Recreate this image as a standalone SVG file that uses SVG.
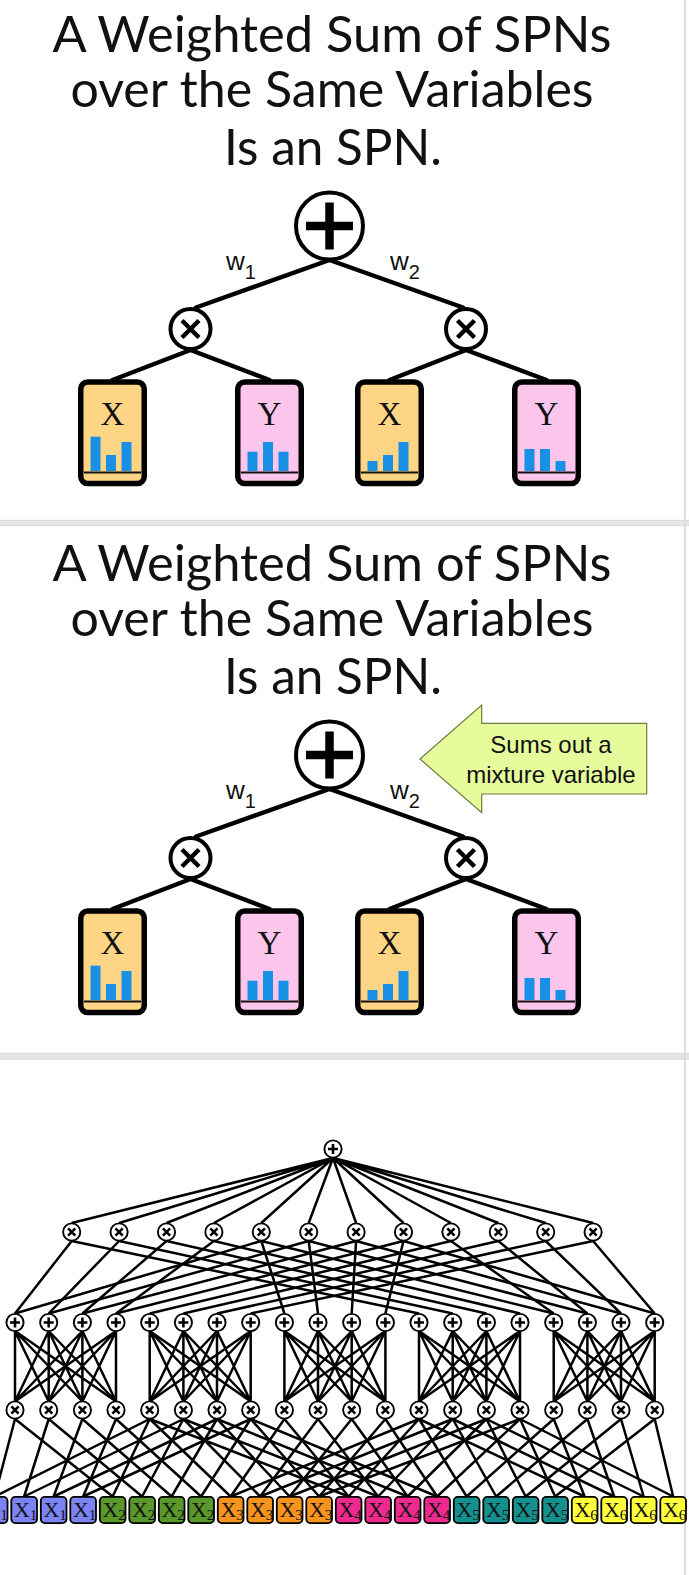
<svg xmlns="http://www.w3.org/2000/svg" width="689" height="1575" viewBox="0 0 689 1575">
<style>
.title{font-family:Lato,"Open Sans","DejaVu Sans",sans-serif;font-size:50px;fill:#111;text-anchor:middle}
.w{font-family:"Liberation Sans",Arial,sans-serif;font-size:26px;fill:#111}
.ws{font-size:20px}
.big{stroke:#000;stroke-width:4.5;fill:none;stroke-linecap:round}
.nodeC{fill:#fff;stroke:#000;stroke-width:4}
.leafX{fill:#fed584;stroke:#000;stroke-width:5.5}
.leafY{fill:#fcc6ec;stroke:#000;stroke-width:5.5}
.lbl{font-family:"Liberation Serif","Times New Roman",serif;font-size:33px;text-anchor:middle;fill:#111}
.bar{fill:#1890e6}
.base{stroke:#111;stroke-width:2.2;fill:none}
.e3{stroke:#000;stroke-width:2.5;fill:none}
.l3{font-family:"Liberation Serif","Times New Roman",serif;font-size:22px;fill:#111}
.l3s{font-size:15px}
.lf{stroke:#000;stroke-width:1.8}
.v1{fill:#7c84f4}.v2{fill:#5a982b}.v3{fill:#f7941e}.v4{fill:#ee2a8f}.v5{fill:#14908f}.v6{fill:#ffff3a}
.callout{font-family:"Liberation Sans",Arial,sans-serif;font-size:24px;fill:#111;text-anchor:middle}
</style>
<defs>
<g id="bigSum"><circle r="33.5" class="nodeC"/><path d="M-23.5,0H23.5M0,-23.5V23.5" stroke="#000" stroke-width="8.5"/></g>
<g id="bigProd"><circle r="20" class="nodeC"/><path d="M-8.5,-8.5L8.5,8.5M8.5,-8.5L-8.5,8.5" stroke="#000" stroke-width="4.5"/></g>
<g id="sP"><circle r="8.6" fill="#fff" stroke="#000" stroke-width="1.9"/><path d="M-5,0H5M0,-5V5" stroke="#000" stroke-width="2.6"/></g>
<g id="sX"><circle r="8.6" fill="#fff" stroke="#000" stroke-width="1.9"/><path d="M-3.6,-3.6L3.6,3.6M3.6,-3.6L-3.6,3.6" stroke="#000" stroke-width="2.6"/></g>
</defs>
<rect width="689" height="1575" fill="#fff"/>
<g id="separators">
<rect x="0" y="520" width="689" height="6" fill="#e6e6e6"/>
<path d="M0,520.3H689M0,525.7H689" stroke="#d6d6d6" stroke-width="0.8"/>
<rect x="0" y="1053" width="689" height="6.5" fill="#e6e6e6"/>
<path d="M0,1053.3H689M0,1059.2H689" stroke="#d6d6d6" stroke-width="0.8"/>
<rect x="684" y="0" width="2" height="1575" fill="#dedede"/>
</g>

<!-- ================= PANEL 1 ================= -->
<g id="p1_title">
<text class="title" x="332" y="52" textLength="559" lengthAdjust="spacingAndGlyphs">A Weighted Sum of SPNs</text>
<text class="title" x="332" y="107" textLength="523" lengthAdjust="spacingAndGlyphs">over the Same Variables</text>
<text class="title" x="333" y="165" textLength="218" lengthAdjust="spacingAndGlyphs">Is an SPN.</text>
</g>
<g id="p1_edges" class="big">
<path d="M329.5,260L196,307.5M329.5,260L463,307.5M190.5,350L112.5,380M190.5,350L269.5,380M466,350L389.5,380M466,350L546.5,380"/>
</g>
<g id="p1_wlabels">
<text class="w" x="226" y="270">w<tspan class="ws" dy="9">1</tspan></text>
<text class="w" x="390" y="270">w<tspan class="ws" dy="9">2</tspan></text>
</g>
<g id="p1_sum" transform="translate(329.5,226)"><use href="#bigSum"/></g>
<g id="p1_prodL" transform="translate(190.5,329)"><use href="#bigProd"/></g>
<g id="p1_prodR" transform="translate(466,329)"><use href="#bigProd"/></g>
<g id="p1_leaf1">
<rect class="leafX" x="80.75" y="382" width="63.5" height="101.5" rx="7"/>
<text class="lbl" x="112.5" y="425">X</text>
<rect class="bar" x="90.5" y="436.7" width="10" height="34.3"/><rect class="bar" x="106" y="455" width="10" height="16"/><rect class="bar" x="121.5" y="442" width="10" height="29"/>
<path class="base" d="M84,472.5H141"/>
</g>
<g id="p1_leaf2">
<rect class="leafY" x="237.75" y="382" width="63.5" height="101.5" rx="7"/>
<text class="lbl" x="269.5" y="425">Y</text>
<rect class="bar" x="247.5" y="451.7" width="10" height="19.3"/><rect class="bar" x="263" y="442" width="10" height="29"/><rect class="bar" x="278.5" y="451.7" width="10" height="19.3"/>
<path class="base" d="M241,472.5H298"/>
</g>
<g id="p1_leaf3">
<rect class="leafX" x="357.75" y="382" width="63.5" height="101.5" rx="7"/>
<text class="lbl" x="389.5" y="425">X</text>
<rect class="bar" x="367.5" y="461" width="10" height="10"/><rect class="bar" x="383" y="455" width="10" height="16"/><rect class="bar" x="398.5" y="442" width="10" height="29"/>
<path class="base" d="M361,472.5H418"/>
</g>
<g id="p1_leaf4">
<rect class="leafY" x="514.75" y="382" width="63.5" height="101.5" rx="7"/>
<text class="lbl" x="546.5" y="425">Y</text>
<rect class="bar" x="524.5" y="449" width="10" height="22"/><rect class="bar" x="540" y="449" width="10" height="22"/><rect class="bar" x="555.5" y="461" width="10" height="10"/>
<path class="base" d="M518,472.5H575"/>
</g>

<!-- ================= PANEL 2 ================= -->
<g transform="translate(0,529)">
<g id="p2_title">
<text class="title" x="332" y="52" textLength="559" lengthAdjust="spacingAndGlyphs">A Weighted Sum of SPNs</text>
<text class="title" x="332" y="107" textLength="523" lengthAdjust="spacingAndGlyphs">over the Same Variables</text>
<text class="title" x="333" y="165" textLength="218" lengthAdjust="spacingAndGlyphs">Is an SPN.</text>
</g>
<g id="p2_edges" class="big">
<path d="M329.5,260L196,307.5M329.5,260L463,307.5M190.5,350L112.5,380M190.5,350L269.5,380M466,350L389.5,380M466,350L546.5,380"/>
</g>
<g id="p2_wlabels">
<text class="w" x="226" y="270">w<tspan class="ws" dy="9">1</tspan></text>
<text class="w" x="390" y="270">w<tspan class="ws" dy="9">2</tspan></text>
</g>
<g id="p2_sum" transform="translate(329.5,226)"><use href="#bigSum"/></g>
<g id="p2_prodL" transform="translate(190.5,329)"><use href="#bigProd"/></g>
<g id="p2_prodR" transform="translate(466,329)"><use href="#bigProd"/></g>
<g id="p2_leaf1">
<rect class="leafX" x="80.75" y="382" width="63.5" height="101.5" rx="7"/>
<text class="lbl" x="112.5" y="425">X</text>
<rect class="bar" x="90.5" y="436.7" width="10" height="34.3"/><rect class="bar" x="106" y="455" width="10" height="16"/><rect class="bar" x="121.5" y="442" width="10" height="29"/>
<path class="base" d="M84,472.5H141"/>
</g>
<g id="p2_leaf2">
<rect class="leafY" x="237.75" y="382" width="63.5" height="101.5" rx="7"/>
<text class="lbl" x="269.5" y="425">Y</text>
<rect class="bar" x="247.5" y="451.7" width="10" height="19.3"/><rect class="bar" x="263" y="442" width="10" height="29"/><rect class="bar" x="278.5" y="451.7" width="10" height="19.3"/>
<path class="base" d="M241,472.5H298"/>
</g>
<g id="p2_leaf3">
<rect class="leafX" x="357.75" y="382" width="63.5" height="101.5" rx="7"/>
<text class="lbl" x="389.5" y="425">X</text>
<rect class="bar" x="367.5" y="461" width="10" height="10"/><rect class="bar" x="383" y="455" width="10" height="16"/><rect class="bar" x="398.5" y="442" width="10" height="29"/>
<path class="base" d="M361,472.5H418"/>
</g>
<g id="p2_leaf4">
<rect class="leafY" x="514.75" y="382" width="63.5" height="101.5" rx="7"/>
<text class="lbl" x="546.5" y="425">Y</text>
<rect class="bar" x="524.5" y="449" width="10" height="22"/><rect class="bar" x="540" y="449" width="10" height="22"/><rect class="bar" x="555.5" y="461" width="10" height="10"/>
<path class="base" d="M518,472.5H575"/>
</g>
</g>
<g id="p2_callout">
<polygon points="420,759 481.7,705 481.7,723.3 646.7,723.3 646.7,794 481.7,794 481.7,812.7" fill="#e6fb9c" stroke="#6f7d3c" stroke-width="1.2"/>
<text class="callout" x="551" y="753">Sums out a</text>
<text class="callout" x="551" y="783">mixture variable</text>
</g>

<!-- ================= PANEL 3 ================= -->
<g id="p3_edges" class="e3">
<path d="M333,1158L71.7,1223M333,1158L119.1,1223M333,1158L166.5,1223M333,1158L213.9,1223M333,1158L261.3,1223M333,1158L308.7,1223M333,1158L356.1,1223M333,1158L403.5,1223M333,1158L450.9,1223M333,1158L498.3,1223M333,1158L545.7,1223M333,1158L593.1,1223"/>
<path d="M71.7,1241L15,1313.5M71.7,1241L419,1313.5M119.1,1241L48.7,1313.5M119.1,1241L452.7,1313.5M166.5,1241L82.4,1313.5M166.5,1241L486.4,1313.5M213.9,1241L116,1313.5M213.9,1241L520,1313.5"/>
<path d="M261.3,1241L15,1313.5M261.3,1241L284.4,1313.5M261.3,1241L553.7,1313.5M308.7,1241L48.7,1313.5M308.7,1241L318,1313.5M308.7,1241L587.4,1313.5M356.1,1241L82.4,1313.5M356.1,1241L351.7,1313.5M356.1,1241L621,1313.5M403.5,1241L116,1313.5M403.5,1241L385.4,1313.5M403.5,1241L654.7,1313.5"/>
<path d="M450.9,1241L149.7,1313.5M450.9,1241L553.7,1313.5M498.3,1241L183.4,1313.5M498.3,1241L587.4,1313.5M545.7,1241L217,1313.5M545.7,1241L621,1313.5M593.1,1241L250.7,1313.5M593.1,1241L654.7,1313.5"/>
<path d="M15,1331L15,1401.5M15,1331L48.7,1401.5M15,1331L82.4,1401.5M15,1331L116,1401.5M48.7,1331L15,1401.5M48.7,1331L48.7,1401.5M48.7,1331L82.4,1401.5M48.7,1331L116,1401.5M82.4,1331L15,1401.5M82.4,1331L48.7,1401.5M82.4,1331L82.4,1401.5M82.4,1331L116,1401.5M116,1331L15,1401.5M116,1331L48.7,1401.5M116,1331L82.4,1401.5M116,1331L116,1401.5"/>
<path d="M149.7,1331L149.7,1401.5M149.7,1331L183.4,1401.5M149.7,1331L217,1401.5M149.7,1331L250.7,1401.5M183.4,1331L149.7,1401.5M183.4,1331L183.4,1401.5M183.4,1331L217,1401.5M183.4,1331L250.7,1401.5M217,1331L149.7,1401.5M217,1331L183.4,1401.5M217,1331L217,1401.5M217,1331L250.7,1401.5M250.7,1331L149.7,1401.5M250.7,1331L183.4,1401.5M250.7,1331L217,1401.5M250.7,1331L250.7,1401.5"/>
<path d="M284.4,1331L284.4,1401.5M284.4,1331L318,1401.5M284.4,1331L351.7,1401.5M284.4,1331L385.4,1401.5M318,1331L284.4,1401.5M318,1331L318,1401.5M318,1331L351.7,1401.5M318,1331L385.4,1401.5M351.7,1331L284.4,1401.5M351.7,1331L318,1401.5M351.7,1331L351.7,1401.5M351.7,1331L385.4,1401.5M385.4,1331L284.4,1401.5M385.4,1331L318,1401.5M385.4,1331L351.7,1401.5M385.4,1331L385.4,1401.5"/>
<path d="M419,1331L419,1401.5M419,1331L452.7,1401.5M419,1331L486.4,1401.5M419,1331L520,1401.5M452.7,1331L419,1401.5M452.7,1331L452.7,1401.5M452.7,1331L486.4,1401.5M452.7,1331L520,1401.5M486.4,1331L419,1401.5M486.4,1331L452.7,1401.5M486.4,1331L486.4,1401.5M486.4,1331L520,1401.5M520,1331L419,1401.5M520,1331L452.7,1401.5M520,1331L486.4,1401.5M520,1331L520,1401.5"/>
<path d="M553.7,1331L553.7,1401.5M553.7,1331L587.4,1401.5M553.7,1331L621,1401.5M553.7,1331L654.7,1401.5M587.4,1331L553.7,1401.5M587.4,1331L587.4,1401.5M587.4,1331L621,1401.5M587.4,1331L654.7,1401.5M621,1331L553.7,1401.5M621,1331L587.4,1401.5M621,1331L621,1401.5M621,1331L654.7,1401.5M654.7,1331L553.7,1401.5M654.7,1331L587.4,1401.5M654.7,1331L621,1401.5M654.7,1331L654.7,1401.5"/>
<path d="M15,1419L-5.35,1496.5M15,1419L112.65,1496.5M48.7,1419L24.15,1496.5M48.7,1419L142.15,1496.5M82.4,1419L53.65,1496.5M82.4,1419L171.65,1496.5M116,1419L83.15,1496.5M116,1419L201.15,1496.5"/>
<path d="M149.7,1419L-5.35,1496.5M149.7,1419L112.65,1496.5M149.7,1419L230.65,1496.5M149.7,1419L348.65,1496.5M183.4,1419L24.15,1496.5M183.4,1419L142.15,1496.5M183.4,1419L260.15,1496.5M183.4,1419L378.15,1496.5M217,1419L53.65,1496.5M217,1419L171.65,1496.5M217,1419L289.65,1496.5M217,1419L407.65,1496.5M250.7,1419L83.15,1496.5M250.7,1419L201.15,1496.5M250.7,1419L319.15,1496.5M250.7,1419L437.15,1496.5"/>
<path d="M284.4,1419L230.65,1496.5M284.4,1419L348.65,1496.5M318,1419L260.15,1496.5M318,1419L378.15,1496.5M351.7,1419L289.65,1496.5M351.7,1419L407.65,1496.5M385.4,1419L319.15,1496.5M385.4,1419L437.15,1496.5"/>
<path d="M419,1419L230.65,1496.5M419,1419L348.65,1496.5M419,1419L466.65,1496.5M419,1419L584.65,1496.5M452.7,1419L260.15,1496.5M452.7,1419L378.15,1496.5M452.7,1419L496.15,1496.5M452.7,1419L614.15,1496.5M486.4,1419L289.65,1496.5M486.4,1419L407.65,1496.5M486.4,1419L525.65,1496.5M486.4,1419L643.65,1496.5M520,1419L319.15,1496.5M520,1419L437.15,1496.5M520,1419L555.15,1496.5M520,1419L673.15,1496.5"/>
<path d="M553.7,1419L466.65,1496.5M553.7,1419L584.65,1496.5M587.4,1419L496.15,1496.5M587.4,1419L614.15,1496.5M621,1419L525.65,1496.5M621,1419L643.65,1496.5M654.7,1419L555.15,1496.5M654.7,1419L673.15,1496.5"/>
</g>
<g id="n3_root" transform="translate(333,1149)"><use href="#sP"/></g>
<g id="n3_prod1">
<g id="n3_p1_0" transform="translate(71.7,1232)"><use href="#sX"/></g>
<g id="n3_p1_1" transform="translate(119.1,1232)"><use href="#sX"/></g>
<g id="n3_p1_2" transform="translate(166.5,1232)"><use href="#sX"/></g>
<g id="n3_p1_3" transform="translate(213.9,1232)"><use href="#sX"/></g>
<g id="n3_p1_4" transform="translate(261.3,1232)"><use href="#sX"/></g>
<g id="n3_p1_5" transform="translate(308.7,1232)"><use href="#sX"/></g>
<g id="n3_p1_6" transform="translate(356.1,1232)"><use href="#sX"/></g>
<g id="n3_p1_7" transform="translate(403.5,1232)"><use href="#sX"/></g>
<g id="n3_p1_8" transform="translate(450.9,1232)"><use href="#sX"/></g>
<g id="n3_p1_9" transform="translate(498.3,1232)"><use href="#sX"/></g>
<g id="n3_p1_10" transform="translate(545.7,1232)"><use href="#sX"/></g>
<g id="n3_p1_11" transform="translate(593.1,1232)"><use href="#sX"/></g>
</g>
<g id="n3_sums">
<g id="n3_s_0" transform="translate(15,1322.5)"><use href="#sP"/></g>
<g id="n3_s_1" transform="translate(48.7,1322.5)"><use href="#sP"/></g>
<g id="n3_s_2" transform="translate(82.4,1322.5)"><use href="#sP"/></g>
<g id="n3_s_3" transform="translate(116,1322.5)"><use href="#sP"/></g>
<g id="n3_s_4" transform="translate(149.7,1322.5)"><use href="#sP"/></g>
<g id="n3_s_5" transform="translate(183.4,1322.5)"><use href="#sP"/></g>
<g id="n3_s_6" transform="translate(217,1322.5)"><use href="#sP"/></g>
<g id="n3_s_7" transform="translate(250.7,1322.5)"><use href="#sP"/></g>
<g id="n3_s_8" transform="translate(284.4,1322.5)"><use href="#sP"/></g>
<g id="n3_s_9" transform="translate(318,1322.5)"><use href="#sP"/></g>
<g id="n3_s_10" transform="translate(351.7,1322.5)"><use href="#sP"/></g>
<g id="n3_s_11" transform="translate(385.4,1322.5)"><use href="#sP"/></g>
<g id="n3_s_12" transform="translate(419,1322.5)"><use href="#sP"/></g>
<g id="n3_s_13" transform="translate(452.7,1322.5)"><use href="#sP"/></g>
<g id="n3_s_14" transform="translate(486.4,1322.5)"><use href="#sP"/></g>
<g id="n3_s_15" transform="translate(520,1322.5)"><use href="#sP"/></g>
<g id="n3_s_16" transform="translate(553.7,1322.5)"><use href="#sP"/></g>
<g id="n3_s_17" transform="translate(587.4,1322.5)"><use href="#sP"/></g>
<g id="n3_s_18" transform="translate(621,1322.5)"><use href="#sP"/></g>
<g id="n3_s_19" transform="translate(654.7,1322.5)"><use href="#sP"/></g>
</g>
<g id="n3_prod2">
<g id="n3_p2_0" transform="translate(15,1410)"><use href="#sX"/></g>
<g id="n3_p2_1" transform="translate(48.7,1410)"><use href="#sX"/></g>
<g id="n3_p2_2" transform="translate(82.4,1410)"><use href="#sX"/></g>
<g id="n3_p2_3" transform="translate(116,1410)"><use href="#sX"/></g>
<g id="n3_p2_4" transform="translate(149.7,1410)"><use href="#sX"/></g>
<g id="n3_p2_5" transform="translate(183.4,1410)"><use href="#sX"/></g>
<g id="n3_p2_6" transform="translate(217,1410)"><use href="#sX"/></g>
<g id="n3_p2_7" transform="translate(250.7,1410)"><use href="#sX"/></g>
<g id="n3_p2_8" transform="translate(284.4,1410)"><use href="#sX"/></g>
<g id="n3_p2_9" transform="translate(318,1410)"><use href="#sX"/></g>
<g id="n3_p2_10" transform="translate(351.7,1410)"><use href="#sX"/></g>
<g id="n3_p2_11" transform="translate(385.4,1410)"><use href="#sX"/></g>
<g id="n3_p2_12" transform="translate(419,1410)"><use href="#sX"/></g>
<g id="n3_p2_13" transform="translate(452.7,1410)"><use href="#sX"/></g>
<g id="n3_p2_14" transform="translate(486.4,1410)"><use href="#sX"/></g>
<g id="n3_p2_15" transform="translate(520,1410)"><use href="#sX"/></g>
<g id="n3_p2_16" transform="translate(553.7,1410)"><use href="#sX"/></g>
<g id="n3_p2_17" transform="translate(587.4,1410)"><use href="#sX"/></g>
<g id="n3_p2_18" transform="translate(621,1410)"><use href="#sX"/></g>
<g id="n3_p2_19" transform="translate(654.7,1410)"><use href="#sX"/></g>
</g>
<g id="n3_leaves">
<g id="n3_leaf_0"><rect class="lf v1" x="-18.2" y="1496.9" width="25.7" height="26.2" rx="4"/><text class="l3" x="-15.6" y="1516.7">X<tspan class="l3s" dy="3.3">1</tspan></text></g>
<g id="n3_leaf_1"><rect class="lf v1" x="11.3" y="1496.9" width="25.7" height="26.2" rx="4"/><text class="l3" x="13.9" y="1516.7">X<tspan class="l3s" dy="3.3">1</tspan></text></g>
<g id="n3_leaf_2"><rect class="lf v1" x="40.8" y="1496.9" width="25.7" height="26.2" rx="4"/><text class="l3" x="43.4" y="1516.7">X<tspan class="l3s" dy="3.3">1</tspan></text></g>
<g id="n3_leaf_3"><rect class="lf v1" x="70.3" y="1496.9" width="25.7" height="26.2" rx="4"/><text class="l3" x="72.9" y="1516.7">X<tspan class="l3s" dy="3.3">1</tspan></text></g>
<g id="n3_leaf_4"><rect class="lf v2" x="99.8" y="1496.9" width="25.7" height="26.2" rx="4"/><text class="l3" x="102.4" y="1516.7">X<tspan class="l3s" dy="3.3">2</tspan></text></g>
<g id="n3_leaf_5"><rect class="lf v2" x="129.3" y="1496.9" width="25.7" height="26.2" rx="4"/><text class="l3" x="131.9" y="1516.7">X<tspan class="l3s" dy="3.3">2</tspan></text></g>
<g id="n3_leaf_6"><rect class="lf v2" x="158.8" y="1496.9" width="25.7" height="26.2" rx="4"/><text class="l3" x="161.4" y="1516.7">X<tspan class="l3s" dy="3.3">2</tspan></text></g>
<g id="n3_leaf_7"><rect class="lf v2" x="188.3" y="1496.9" width="25.7" height="26.2" rx="4"/><text class="l3" x="190.9" y="1516.7">X<tspan class="l3s" dy="3.3">2</tspan></text></g>
<g id="n3_leaf_8"><rect class="lf v3" x="217.8" y="1496.9" width="25.7" height="26.2" rx="4"/><text class="l3" x="220.4" y="1516.7">X<tspan class="l3s" dy="3.3">3</tspan></text></g>
<g id="n3_leaf_9"><rect class="lf v3" x="247.3" y="1496.9" width="25.7" height="26.2" rx="4"/><text class="l3" x="249.9" y="1516.7">X<tspan class="l3s" dy="3.3">3</tspan></text></g>
<g id="n3_leaf_10"><rect class="lf v3" x="276.8" y="1496.9" width="25.7" height="26.2" rx="4"/><text class="l3" x="279.4" y="1516.7">X<tspan class="l3s" dy="3.3">3</tspan></text></g>
<g id="n3_leaf_11"><rect class="lf v3" x="306.3" y="1496.9" width="25.7" height="26.2" rx="4"/><text class="l3" x="308.9" y="1516.7">X<tspan class="l3s" dy="3.3">3</tspan></text></g>
<g id="n3_leaf_12"><rect class="lf v4" x="335.8" y="1496.9" width="25.7" height="26.2" rx="4"/><text class="l3" x="338.4" y="1516.7">X<tspan class="l3s" dy="3.3">4</tspan></text></g>
<g id="n3_leaf_13"><rect class="lf v4" x="365.3" y="1496.9" width="25.7" height="26.2" rx="4"/><text class="l3" x="367.9" y="1516.7">X<tspan class="l3s" dy="3.3">4</tspan></text></g>
<g id="n3_leaf_14"><rect class="lf v4" x="394.8" y="1496.9" width="25.7" height="26.2" rx="4"/><text class="l3" x="397.4" y="1516.7">X<tspan class="l3s" dy="3.3">4</tspan></text></g>
<g id="n3_leaf_15"><rect class="lf v4" x="424.3" y="1496.9" width="25.7" height="26.2" rx="4"/><text class="l3" x="426.9" y="1516.7">X<tspan class="l3s" dy="3.3">4</tspan></text></g>
<g id="n3_leaf_16"><rect class="lf v5" x="453.8" y="1496.9" width="25.7" height="26.2" rx="4"/><text class="l3" x="456.4" y="1516.7">X<tspan class="l3s" dy="3.3">5</tspan></text></g>
<g id="n3_leaf_17"><rect class="lf v5" x="483.3" y="1496.9" width="25.7" height="26.2" rx="4"/><text class="l3" x="485.9" y="1516.7">X<tspan class="l3s" dy="3.3">5</tspan></text></g>
<g id="n3_leaf_18"><rect class="lf v5" x="512.8" y="1496.9" width="25.7" height="26.2" rx="4"/><text class="l3" x="515.4" y="1516.7">X<tspan class="l3s" dy="3.3">5</tspan></text></g>
<g id="n3_leaf_19"><rect class="lf v5" x="542.3" y="1496.9" width="25.7" height="26.2" rx="4"/><text class="l3" x="544.9" y="1516.7">X<tspan class="l3s" dy="3.3">5</tspan></text></g>
<g id="n3_leaf_20"><rect class="lf v6" x="571.8" y="1496.9" width="25.7" height="26.2" rx="4"/><text class="l3" x="574.4" y="1516.7">X<tspan class="l3s" dy="3.3">6</tspan></text></g>
<g id="n3_leaf_21"><rect class="lf v6" x="601.3" y="1496.9" width="25.7" height="26.2" rx="4"/><text class="l3" x="603.9" y="1516.7">X<tspan class="l3s" dy="3.3">6</tspan></text></g>
<g id="n3_leaf_22"><rect class="lf v6" x="630.8" y="1496.9" width="25.7" height="26.2" rx="4"/><text class="l3" x="633.4" y="1516.7">X<tspan class="l3s" dy="3.3">6</tspan></text></g>
<g id="n3_leaf_23"><rect class="lf v6" x="660.3" y="1496.9" width="25.7" height="26.2" rx="4"/><text class="l3" x="662.9" y="1516.7">X<tspan class="l3s" dy="3.3">6</tspan></text></g>
</g>
</svg>
